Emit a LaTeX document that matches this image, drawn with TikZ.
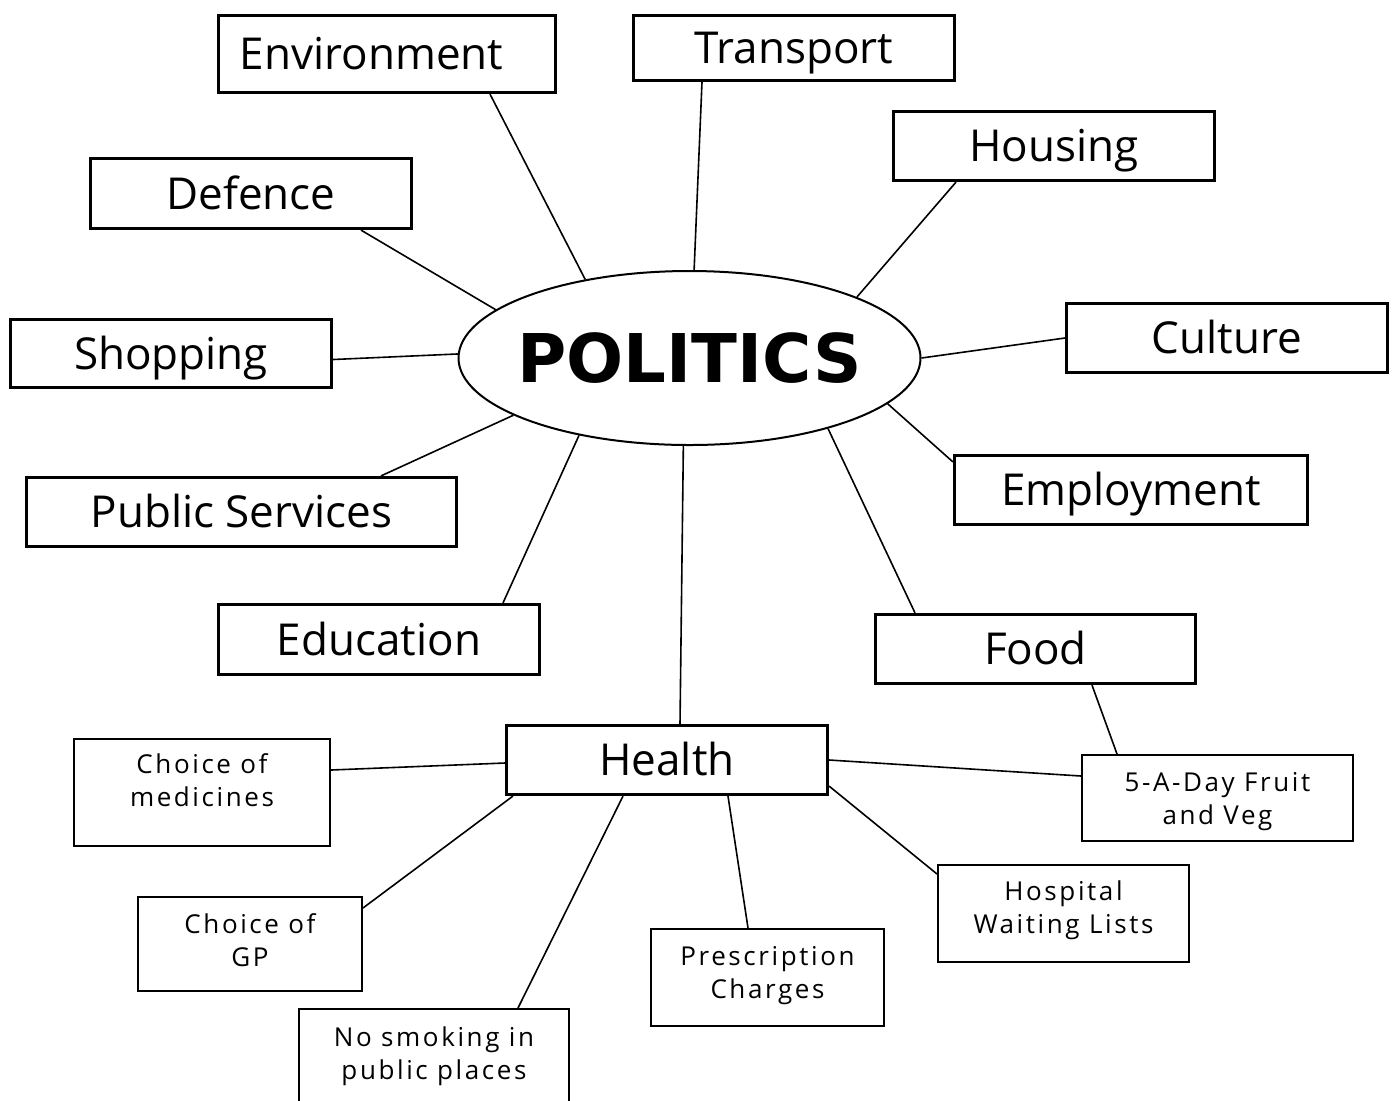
\documentclass[tikz,border=0pt]{standalone}
\usepackage{fontspec}
\setmainfont{Open Sans}
\newfontfamily\politicsfont{DejaVu Sans}
\newfontfamily\spacedfont{Open Sans}[LetterSpace=10]
\usetikzlibrary{shapes,positioning,calc}

\begin{document}
\begin{tikzpicture}[x=0.5pt, y=-0.5pt,
    every node/.style={inner sep=0pt},
    topic/.style={rectangle, draw, line width=1.6pt, text height=15.7pt, text depth=0pt,
        font=\fontsize{22}{26}\selectfont},
    subtopic/.style={rectangle, draw, line width=1pt, align=center,
        font=\spacedfont\fontsize{13}{16.5}\selectfont},
    link/.style={draw, line width=0.8pt}]
    \clip (0,0) rectangle (1397,1100);

    % centre
    \node[ellipse, draw, line width=1pt, minimum width=231pt, minimum height=87pt, inner xsep=-20pt,
        font=\politicsfont\bfseries\fontsize{33.6}{40}\selectfont] (pol) at (689.5,358) {POLITICS};

    % main topics
    \node[topic, minimum width=168.5pt, minimum height=38.5pt] (env) at (387,54) {Environment\hspace*{15.5pt}};
    \node[topic, minimum width=160.5pt, minimum height=32.5pt] (trn) at (794,48) {Transport};
    \node[topic, minimum width=160.5pt, minimum height=34.5pt] (hou) at (1054,146) {Housing};
    \node[topic, minimum width=160.5pt, minimum height=35pt] (def) at (251,193.5) {Defence};
    \node[topic, minimum width=160.5pt, minimum height=34.5pt] (cul) at (1227,338) {Culture};
    \node[topic, minimum width=160.5pt, minimum height=34pt] (shp) at (171,353.5) {Shopping};
    \node[topic, minimum width=176.5pt, minimum height=34.5pt] (emp) at (1131,490) {Employment};
    \node[topic, minimum width=215pt, minimum height=34.5pt] (pub) at (241.5,512) {Public Services};
    \node[topic, minimum width=160.5pt, minimum height=35pt] (edu) at (379,639.5) {Education};
    \node[topic, minimum width=160pt, minimum height=34.5pt] (fod) at (1035.5,649) {Food};
    \node[topic, minimum width=160.5pt, minimum height=34.5pt] (hea) at (667,760) {Health};

    % health topics
    \node[subtopic, minimum width=128pt, minimum height=53.5pt, text depth=12.5pt] (med) at (202,792.5) {Choice of\\medicines};
    \node[subtopic, minimum width=135.5pt, minimum height=43pt, text depth=0pt] (day) at (1217.5,798) {5-A-Day Fruit\\and Veg};
    \node[subtopic, minimum width=112pt, minimum height=47pt, text depth=4pt] (gp) at (250,944) {Choice of\\GP};
    \node[subtopic, minimum width=125.5pt, minimum height=48.5pt, text depth=6.5pt] (hos) at (1063.5,913.5) {Hospital\\Waiting Lists};
    \node[subtopic, minimum width=116.5pt, minimum height=48.5pt, text depth=5.5pt] (pre) at (767.5,977.5) {Prescription\\Charges};
    \node[subtopic, minimum width=135pt, minimum height=46.5pt, text depth=2pt] (smk) at (434,1055.5) {No smoking in\\public places};

    % links to the centre
    \draw[link] ($(env.south)+(103,0)$) -- (pol.143.6);
    \draw[link] ($(trn.south)+(-92,0)$) -- (pol.87.1);
    \draw[link] ($(hou.south)+(-98,0)$) -- (pol.20.5);
    \draw[link] ($(def.south)+(110,0)$) -- (pol.166.3);
    \draw[link] (cul.west) -- (pol.-0.5);
    \draw[link] ($(shp.east)+(0,6)$) -- (pol.179);
    \draw[link] ($(emp.north west)+(0,8)$) -- (pol.-13.3);
    \draw[link] ($(pub.north)+(139.5,0)$) -- (pol.-162);
    \draw[link] ($(edu.north)+(124,0)$) -- (pol.-145.5);
    \draw[link] ($(fod.north)+(-120.5,0)$) -- (pol.-27.7);
    \draw[link] ($(hea.north)+(13,0)$) -- (pol.-94.2);

    % links round health
    \draw[link] ($(hea.west)+(0,3)$) -- ($(med.east)+(0,-22.5)$);
    \draw[link] (hea.east) -- ($(day.west)+(0,-22)$);
    \draw[link] ($(fod.south)+(56.5,0)$) -- ($(day.north)+(-100.5,0)$);
    \draw[link] ($(hea.south west)+(8,0)$) -- ($(gp.north east)+(0,12)$);
    \draw[link] ($(hea.south)+(-44,0)$) -- ($(smk.north)+(84,0)$);
    \draw[link] ($(hea.south)+(61,0)$) -- ($(pre.north)+(-19.5,0)$);
    \draw[link] ($(hea.south east)+(0,-10)$) -- ($(hos.north west)+(0,10)$);
\end{tikzpicture}
\end{document}
